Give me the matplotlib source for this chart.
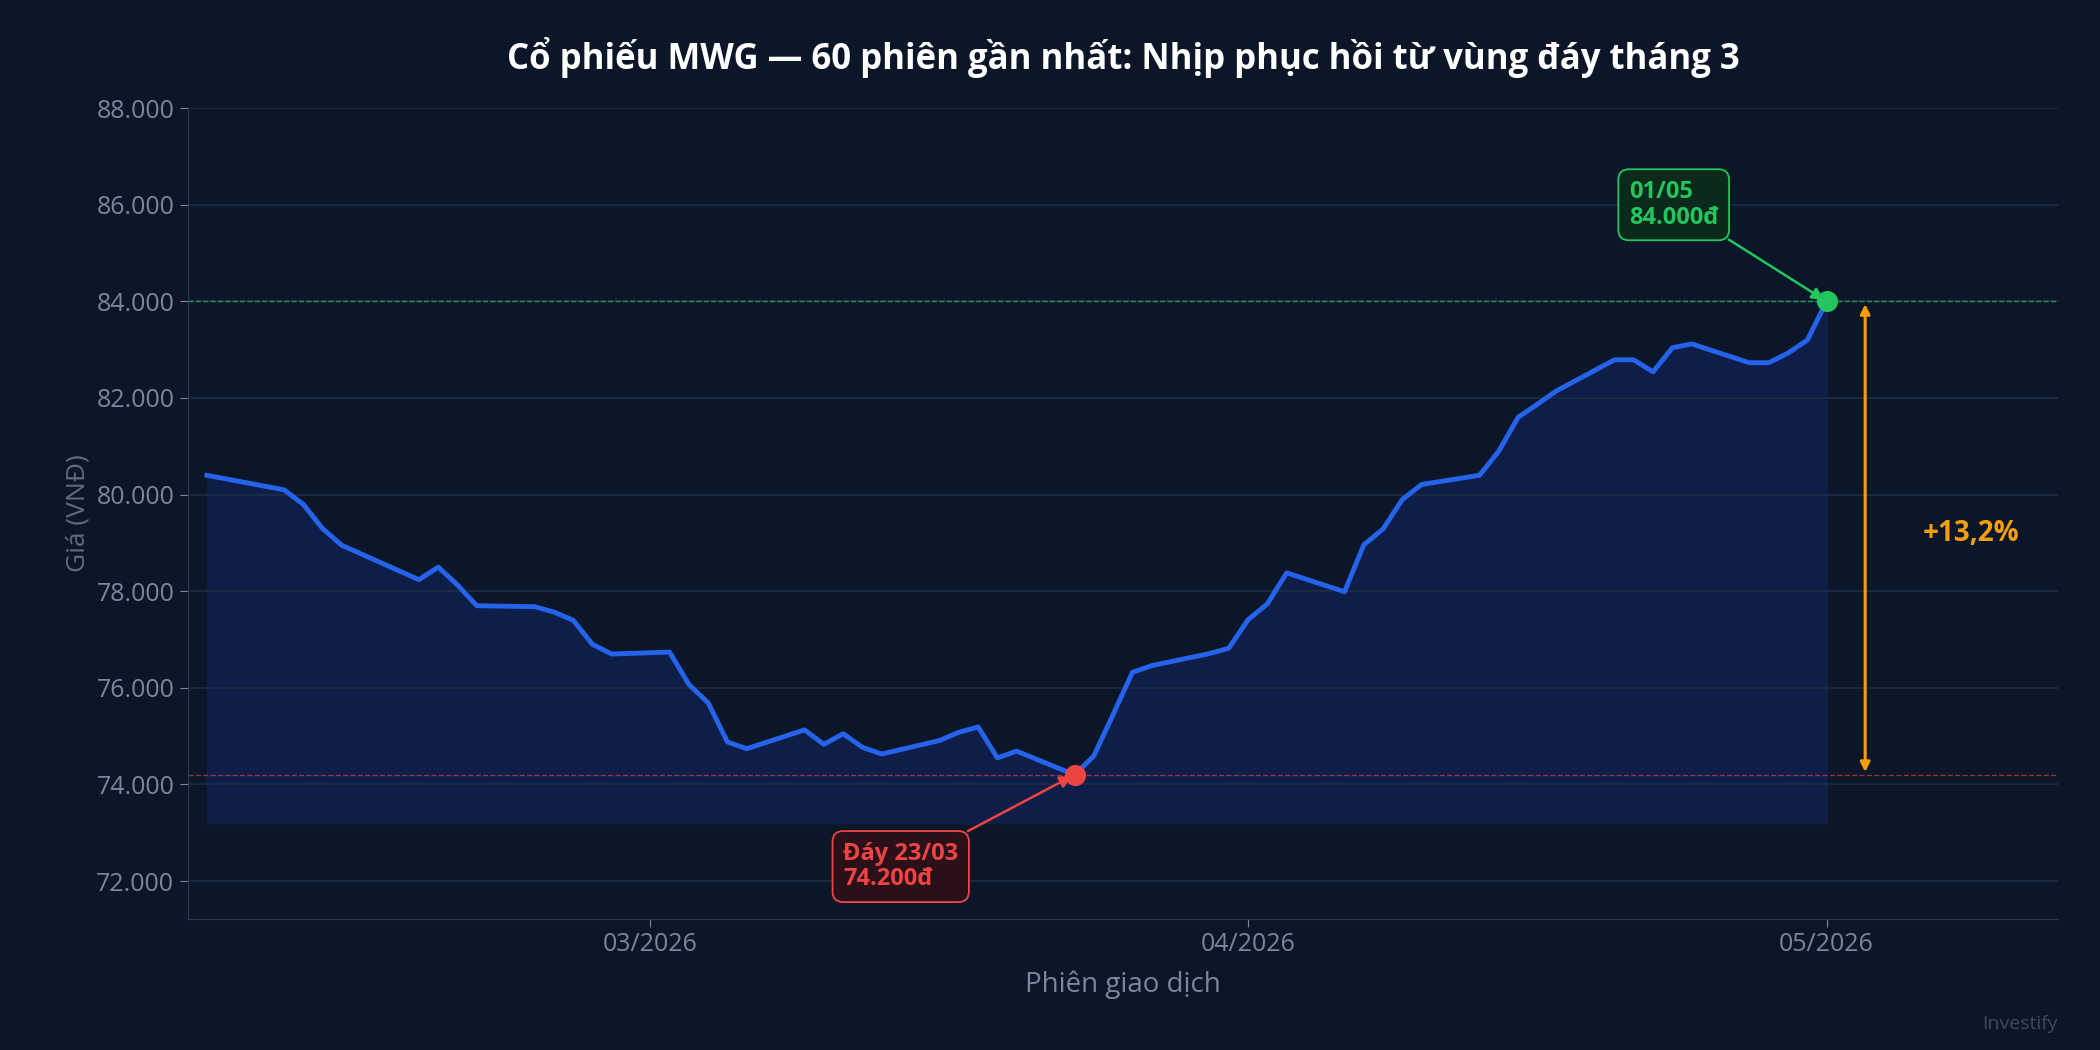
import matplotlib
matplotlib.use("Agg")
import matplotlib.pyplot as plt
import matplotlib.dates as mdates
import matplotlib.ticker as mticker
import numpy as np
import pandas as pd

dates = ["2026-02-06","2026-02-10","2026-02-11","2026-02-12","2026-02-13","2026-02-17","2026-02-18","2026-02-19","2026-02-20",
         "2026-02-23","2026-02-24","2026-02-25","2026-02-26","2026-02-27","2026-03-02","2026-03-03","2026-03-04","2026-03-05","2026-03-06",
         "2026-03-09","2026-03-10","2026-03-11","2026-03-12","2026-03-13","2026-03-16","2026-03-17","2026-03-18","2026-03-19","2026-03-20",
         "2026-03-23","2026-03-24","2026-03-25","2026-03-26","2026-03-27","2026-03-30","2026-03-31","2026-04-01","2026-04-02","2026-04-03",
         "2026-04-06","2026-04-07","2026-04-08","2026-04-09","2026-04-10","2026-04-13","2026-04-14","2026-04-15","2026-04-16","2026-04-17",
         "2026-04-20","2026-04-21","2026-04-22","2026-04-23","2026-04-24","2026-04-27","2026-04-28","2026-04-29","2026-04-30","2026-05-01"]
prices = [80400,80100,79800,79300,78950,78240,78500,78130,77700,
          77680,77570,77400,76900,76700,76740,76070,75690,74880,74740,
          75130,74830,75050,74770,74630,74910,75080,75190,74550,74690,
          74200,74590,75450,76320,76460,76710,76820,77410,77740,78380,
          77990,78960,79290,79900,80210,80400,80900,81600,81870,82150,
          82790,82790,82540,83040,83120,82730,82730,82930,83200,84000]
x = pd.to_datetime(dates)
low_price, high_price = 74200, 84000
pct_label = "+13,2%"

BG = "#0b1628"
plt.rcParams['font.family'] = ['Open Sans', 'Noto Sans', 'DejaVu Sans']
fig = plt.figure(figsize=(21, 10.5), dpi=100, facecolor=BG)
ax = fig.add_axes([0.0893, 0.125, 0.8907, 0.772])
ax.set_facecolor(BG)

ax.fill_between(x, prices, 73200, color="#0f1f4a", alpha=0.95, zorder=1)
ax.plot(x, prices, color="#2563eb", lw=3.5, zorder=3)
ax.axhline(high_price, color="#22c55e", ls="--", lw=1, alpha=0.7, zorder=2)
ax.axhline(low_price, color="#ef4444", ls="--", lw=1, alpha=0.6, zorder=2)

lo_d = pd.Timestamp("2026-03-23"); hi_d = pd.Timestamp("2026-05-01")
ax.scatter([lo_d], [low_price], s=200, color="#ef4444", zorder=5)
ax.scatter([hi_d], [high_price], s=200, color="#22c55e", zorder=5)

ax.annotate("Đáy 23/03\n74.200đ", xy=(lo_d, low_price), xytext=(pd.Timestamp("2026-03-11"), 72300),
            color="#ef4444", fontsize=17, fontweight="bold", va="center", ha="left", linespacing=1.1,
            bbox=dict(boxstyle="round,pad=0.45", fc="#2a1018", ec="#ef4444", lw=1.3),
            arrowprops=dict(arrowstyle="-|>", color="#ef4444", lw=1.8, mutation_scale=18), zorder=6)
ax.annotate("01/05\n84.000đ", xy=(hi_d, high_price), xytext=(pd.Timestamp("2026-04-20 18:00"), 86000),
            color="#22c55e", fontsize=17, fontweight="bold", va="center", ha="left", linespacing=1.1,
            bbox=dict(boxstyle="round,pad=0.45", fc="#0b2a1c", ec="#22c55e", lw=1.3),
            arrowprops=dict(arrowstyle="-|>", color="#22c55e", lw=1.8, mutation_scale=18), zorder=6)

arr_x = pd.Timestamp("2026-05-03")
ax.annotate("", xy=(arr_x, low_price), xytext=(arr_x, high_price),
            arrowprops=dict(arrowstyle="<|-|>", color="#f59e0b", lw=2.2, mutation_scale=14))
ax.text(pd.Timestamp("2026-05-08 12:00"), 79200, pct_label, color="#f59e0b", fontsize=20, fontweight="bold",
        ha="center", va="center")

ax.set_xlim(pd.Timestamp("2026-02-05"), pd.Timestamp("2026-05-13"))
ax.set_ylim(71220, 88000)
ax.xaxis.set_major_locator(mdates.MonthLocator())
ax.xaxis.set_major_formatter(mdates.DateFormatter("%m/%Y"))
ax.yaxis.set_major_locator(mticker.MultipleLocator(2000))
ax.yaxis.set_major_formatter(mticker.FuncFormatter(lambda v, p: f"{int(v):,}".replace(",", ".")))
ax.grid(axis="y", color="#1e2d45", lw=1.2)
ax.grid(axis="x", visible=False)
for s in ["top", "right"]:
    ax.spines[s].set_visible(False)
for s in ["left", "bottom"]:
    ax.spines[s].set_color("#2a3a55")
ax.tick_params(colors="#7a879c", labelsize=18, length=6)
ax.set_ylabel("Giá (VNĐ)", color="#5f6b80", fontsize=19)
ax.set_xlabel("Phiên giao dịch", color="#7a879c", fontsize=20, labelpad=10)
fig.suptitle("Cổ phiếu MWG — 60 phiên gần nhất: Nhịp phục hồi từ vùng đáy tháng 3",
             color="white", fontsize=25, fontweight="bold", x=0.535, y=0.965)
fig.text(0.98, 0.02, "Investify", color="#3d4a5e", fontsize=14, ha="right")
fig.savefig("out.png", facecolor=BG)
